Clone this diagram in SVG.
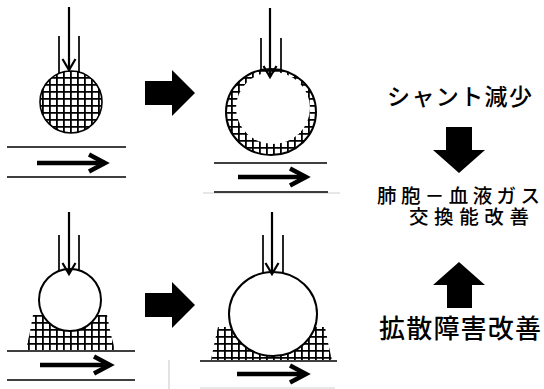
<svg xmlns="http://www.w3.org/2000/svg" width="544" height="389" viewBox="0 0 544 389">
  <style>
    .wall { fill: none; stroke: #000; stroke-width: 1.7; }
    .feed { fill: none; stroke: #000; stroke-width: 2.2; marker-end: url(#vee); }
    .flow { fill: none; stroke: #000; stroke-width: 4.5; marker-end: url(#veeBold); }
    .vessel { fill: none; stroke: #000; stroke-width: 1.6; }
    .faint { fill: none; stroke: #d0d0d0; stroke-width: 1.2; }
    .sac { fill: #fff; stroke: #000; stroke-width: 2; }
    .fluid { fill: url(#grid); stroke: none; }
    .block { fill: #000; }
    .label { font-family: "Noto Sans CJK JP", "Noto Sans", sans-serif; font-weight: 500; fill: #000; }
  </style>
  <defs>
    <pattern id="grid" width="7" height="7" patternUnits="userSpaceOnUse">
      <rect width="7" height="7" fill="#fff"/>
      <path d="M0 0.9H7M0.9 0V7" stroke="#000" stroke-width="1.8"/>
    </pattern>
    <marker id="vee" markerUnits="userSpaceOnUse" markerWidth="30" markerHeight="30" viewBox="-15 -15 30 30" refX="0" refY="0" orient="auto">
      <path d="M-11,-6.5 L0,0 L-11,6.5" fill="none" stroke="#000" stroke-width="2.2"/>
    </marker>
    <marker id="veeBold" markerUnits="userSpaceOnUse" markerWidth="40" markerHeight="40" viewBox="-20 -20 40 40" refX="0" refY="0" orient="auto">
      <path d="M-16,-8.5 L0,0 L-16,8.5" fill="none" stroke="#000" stroke-width="4.5" stroke-linejoin="miter"/>
    </marker>
  </defs>

  <!-- alveolus filled with fluid (shunt) -->
  <g id="alveolus-flooded">
    <path class="wall" d="M59 36V74M79 36V73"/>
    <circle cx="71" cy="102" r="31" fill="url(#grid)" stroke="#000" stroke-width="1.6"/>
    <path class="vessel" d="M7 147H126M7 177H126"/>
  </g>

  <!-- alveolus re-opened, thin fluid film left on the wall -->
  <g id="alveolus-recruited">
    <path class="wall" d="M261 38V71M281 38V71"/>
    <ellipse cx="271" cy="112" rx="45" ry="43" fill="url(#grid)" stroke="#000" stroke-width="2"/>
    <ellipse cx="273" cy="108" rx="37" ry="36" fill="#fff"/>
    <path class="faint" d="M203 193H340"/>
    <path class="vessel" d="M214 163H327M214 192H328"/>
  </g>

  <!-- alveolus with interstitial oedema -->
  <g id="alveolus-oedema">
    <path class="wall" d="M59 235V274M79 235V273"/>
    <path class="fluid" d="M33 315H107Q110 333 115 350H26Q30 333 33 315Z"/>
    <circle class="sac" cx="70" cy="300" r="31"/>
    <path class="vessel" d="M7 351H135M7 380H135"/>
  </g>

  <!-- alveolus expanded, oedema reduced -->
  <g id="alveolus-expanded">
    <path class="wall" d="M263 235V275M283 235V275"/>
    <path class="fluid" d="M218 327H325Q328 344 332 360H211Q214 344 218 327Z"/>
    <ellipse class="sac" cx="273" cy="314" rx="44" ry="42"/>
    <path class="vessel" d="M200 361H337"/>
    <path class="faint" d="M200 388H335M169 360V389"/>
  </g>

  <!-- connectors: inflow, blood flow and block arrows -->
  <g id="connectors">
    <line class="feed" x1="69" y1="7" x2="69" y2="70"/>
    <line class="feed" x1="270" y1="8" x2="270" y2="77"/>
    <line class="feed" x1="69" y1="212" x2="69" y2="274"/>
    <line class="feed" x1="272" y1="212" x2="272" y2="274"/>

    <line class="flow" x1="37" y1="163" x2="105" y2="163"/>
    <line class="flow" x1="238" y1="177" x2="306" y2="177"/>
    <line class="flow" x1="40" y1="365" x2="110" y2="365"/>
    <line class="flow" x1="237" y1="374" x2="306" y2="374"/>

    <polygon class="block" points="145,81 172,81 172,70 195,93 172,116 172,105 145,105"/>
    <polygon class="block" points="145,293 172,293 172,282 195,305 172,328 172,317 145,317"/>
    <polygon class="block" points="446,127 472,127 472,150 485,150 459,173 433,150 446,150"/>
    <polygon class="block" points="447,308 472,308 472,285 485,285 459,262 433,285 447,285"/>
  </g>

  <!-- outcome labels -->
  <g id="label-shunt">
    <text class="label" x="387" y="105" font-size="23" textLength="145" lengthAdjust="spacing">シャント減少</text>
  </g>
  <g id="label-exchange">
    <text class="label" font-size="19.5"><tspan x="377" y="203" textLength="163" lengthAdjust="spacing">肺胞－血液ガス</tspan><tspan x="409" y="224" textLength="120" lengthAdjust="spacing">交換能改善</tspan></text>
  </g>
  <g id="label-diffusion">
    <text class="label" x="379" y="338" font-size="26" textLength="162" lengthAdjust="spacing">拡散障害改善</text>
  </g>
</svg>
